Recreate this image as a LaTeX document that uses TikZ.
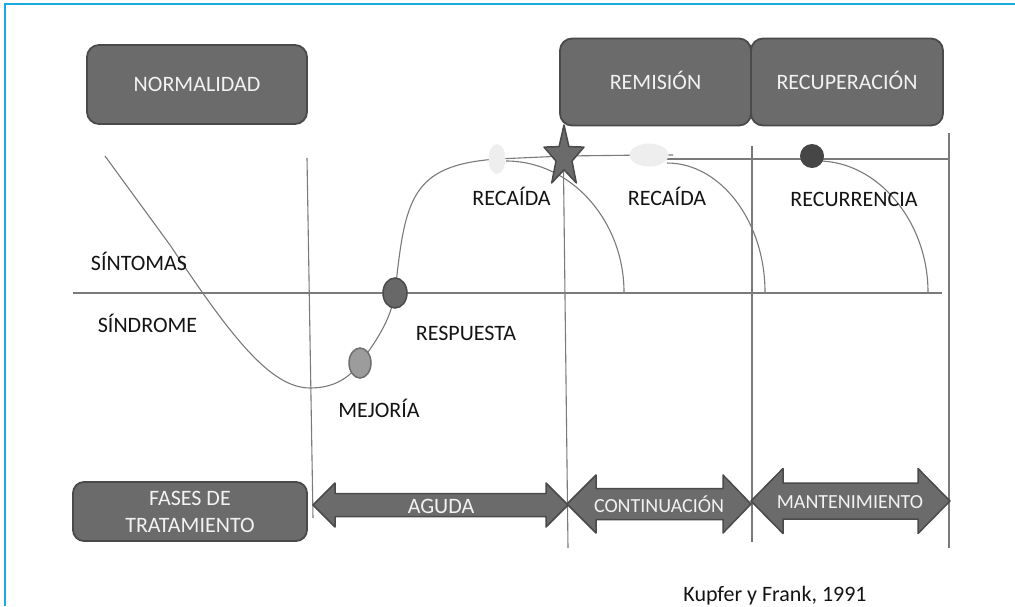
\documentclass[tikz,border=0pt]{standalone}
\usepackage{fontspec}
\setmainfont{Carlito}
\usepackage{tikz}
\usetikzlibrary{shapes.geometric}
\definecolor{boxgray}{HTML}{6B6B6B}
\definecolor{boxedge}{HTML}{4A4A4A}
\definecolor{trackgray}{HTML}{7A7A7A}
\definecolor{palegray}{HTML}{EEEEEE}
\definecolor{dotdark}{HTML}{464646}
\definecolor{respgray}{HTML}{686868}
\definecolor{mejgray}{HTML}{9C9C9C}
\definecolor{framecyan}{HTML}{1BA9E1}
\definecolor{boxtext}{HTML}{F2F2F2}

\begin{document}
\begin{tikzpicture}[x=1pt, y=-1pt,
  every node/.style={font=\fontsize{22}{27}\selectfont, inner sep=0pt},
  stage/.style={draw=boxedge, fill=boxgray, line width=1.8pt, rounded corners=12pt, text=boxtext, text height=14.2pt, text depth=0pt},
  phase/.style={draw=boxedge, fill=boxgray, line width=1.5pt, line join=round},
  phasetext/.style={text=boxtext, text height=14.2pt, text depth=0pt},
  track/.style={draw=trackgray, line width=1.1pt},
  tag/.style={text=black!92, text height=14.2pt, text depth=0pt}]
  \useasboundingbox (0,0) rectangle (1015,606);
  \draw[framecyan, line width=1.5pt] (1015,4) -- (5,4) -- (5,606);
  % top boxes
  \node[stage, minimum width=220pt, minimum height=79pt] (normalidad) at (197,84.5) {NORMALIDAD};
  \node[stage, minimum width=191pt, minimum height=87pt] (remision) at (655.5,82) {REMISIÓN};
  \node[stage, minimum width=192pt, minimum height=87pt] (recuperacion) at (847,82) {RECUPERACIÓN};
  % grid lines
  \draw[track] (307,158) -- (313,518);
  \draw[track] (563,128) -- (568,548);
  \draw[track] (752,146) -- (752,542);
  \draw[track] (949,133) -- (949,548);
  \draw[track] (73,293) -- (942,293);
  % course of the episode
  \draw[track] (105,156) -- (170,245) .. controls (230,335) and (270,388) .. (310,388)
    .. controls (335,388) and (350,377) .. (360,363) .. controls (375,343) and (391,320) .. (395,293)
    .. controls (405,200) and (410,165) .. (497,159) -- (564,156) -- (649,155) -- (673,155);
  \draw[track] (662,159) -- (949,159);
  \draw[track] (506,161) .. controls (572,161) and (624,222) .. (624,292);
  \draw[track] (667,163) .. controls (721,163) and (765,222) .. (765,292);
  \draw[track] (818,161) .. controls (878,161) and (928,222) .. (928,292);
  % markers
  \node[ellipse, fill=palegray, minimum width=17pt, minimum height=30pt] (recaidaone) at (497,159) {};
  \node[ellipse, fill=palegray, minimum width=39pt, minimum height=23pt] (recaidatwo) at (649,155) {};
  \node[circle, fill=dotdark, minimum size=24pt] (recurrmark) at (812,156) {};
  \node[ellipse, draw=boxedge, line width=1.5pt, fill=respgray, minimum width=24pt, minimum height=30pt] (respmark) at (395,293) {};
  \node[ellipse, draw=boxedge!80, line width=1.5pt, fill=mejgray, minimum width=22pt, minimum height=30pt] (mejmark) at (360,363) {};
  \draw[fill=boxgray, draw=boxedge, line width=1.5pt, line join=round] (564,125) -- (568.9,146.6) -- (584,147.1) -- (572,161) -- (576.3,182.9) -- (564,169.8) -- (551.7,182.9) -- (556,161) -- (544,147.1) -- (559.1,146.6) -- cycle;
  % labels
  \node[tag] (sintomas) at (139,263) {SÍNTOMAS};
  \node[tag] (sindrome) at (147.5,325) {SÍNDROME};
  \node[tag] (respuesta) at (466,333) {RESPUESTA};
  \node[tag] (mejoria) at (379,410) {MEJORÍA};
  \node[tag] (recaidaa) at (511.5,198) {RECAÍDA};
  \node[tag] (recaidab) at (667,198) {RECAÍDA};
  \node[tag] (recurrencia) at (854,199) {RECURRENCIA};
  \node[tag] (fuente) at (775,594) {Kupfer y Frank, 1991};
  % treatment phases
  \node[draw=boxedge, fill=boxgray, line width=1.8pt, rounded corners=11pt, text=boxtext, align=center, minimum width=234pt, minimum height=59pt] (fases) at (190,511.5) {FASES DE\\TRATAMIENTO};
  \draw[phase] (313,505) -- (335,483) -- (335,493.5) -- (546,493.5) -- (546,483) -- (568,505) -- (546,527) -- (546,516.5) -- (335,516.5) -- (335,527) -- cycle;
  \node[phasetext] (aguda) at (441,506) {AGUDA};
  \draw[phase] (567,504) -- (596,475) -- (596,488.5) -- (723,488.5) -- (723,475) -- (751,504) -- (723,533) -- (723,519.5) -- (596,519.5) -- (596,533) -- cycle;
  \node[phasetext, font=\fontsize{20}{24}\selectfont, text height=12.9pt] (continuacion) at (659,506) {CONTINUACIÓN};
  \draw[phase] (751,501) -- (783,468.5) -- (783,483) -- (918,483) -- (918,468.5) -- (950,501) -- (918,533.5) -- (918,519) -- (783,519) -- (783,533.5) -- cycle;
  \node[phasetext, font=\fontsize{20}{24}\selectfont, text height=12.9pt] (mantenimiento) at (850,502) {MANTENIMIENTO};
\end{tikzpicture}
\end{document}
